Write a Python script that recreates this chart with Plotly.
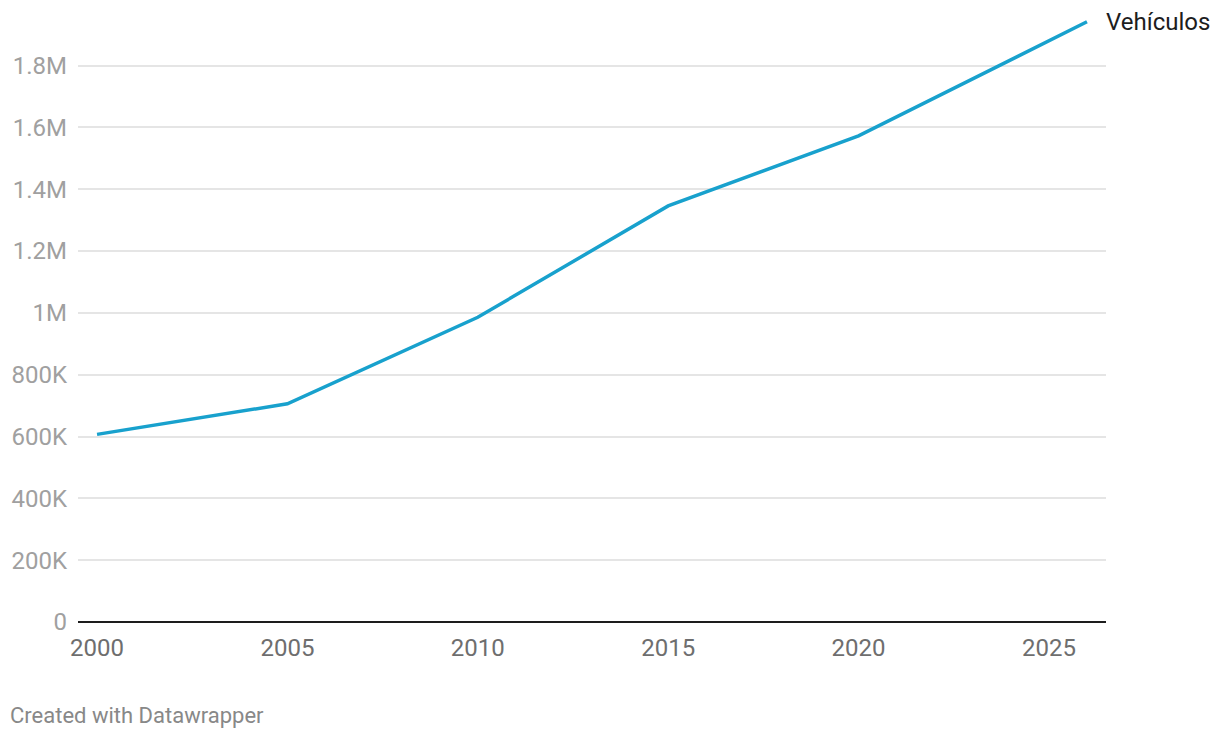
import plotly.graph_objects as go

years = [2000, 2005, 2010, 2015, 2020, 2026]
vehiculos = [607000, 706000, 986000, 1346000, 1573000, 1942000]
series_name = "Vehículos"

y_tickvals = [0, 200000, 400000, 600000, 800000, 1000000, 1200000, 1400000, 1600000, 1800000]
y_ticktext = ["0", "200K", "400K", "600K", "800K", "1M", "1.2M", "1.4M", "1.6M", "1.8M"]
x_tickvals = [2000, 2005, 2010, 2015, 2020, 2025]
x_ticktext = ["2000", "2005", "2010", "2015", "2020", "2025"]

# page body has an 8px default margin, so offsets compensate for it
W, H = 1220, 738
ML, MR, MT, MB = 70, 122, 2, 124
plot_w = W - ML - MR
plot_h = H - MT - MB

fig = go.Figure()
fig.add_trace(go.Scatter(
    x=years, y=vehiculos, mode="lines", name=series_name,
    line=dict(color="#18a1cd", width=3.5), hoverinfo="x+y",
))
fig.add_annotation(
    x=years[-1], y=vehiculos[-1], xref="x", yref="y",
    text=series_name, showarrow=False, xanchor="left", yanchor="middle",
    xshift=17, font=dict(family="Roboto", size=24, color="#1d1d1d"),
)
fig.add_annotation(
    x=(8 - 78) / plot_w, y=(621.7 - 715) / plot_h, xref="paper", yref="paper",
    xanchor="left", yanchor="middle",
    text="Created with Datawrapper", showarrow=False,
    font=dict(family="Roboto", size=22, color="#888888"),
)

fig.update_layout(
    width=W, height=H,
    margin=dict(l=ML, r=MR, t=MT, b=MB, autoexpand=False),
    plot_bgcolor="white", paper_bgcolor="white",
    showlegend=False,
    font=dict(family="Roboto"),
)
fig.update_xaxes(
    range=[1999.5, 2026.5], tickvals=x_tickvals, ticktext=x_ticktext,
    showgrid=False, zeroline=False, showline=False,
    tickfont=dict(family="Roboto", size=24, color="#6e6e6e"),
    ticks="", ticklabelstandoff=9,
)
fig.update_yaxes(
    range=[0, 1980000], tickvals=y_tickvals, ticktext=y_ticktext,
    showgrid=True, gridcolor="#e5e5e5", gridwidth=1.5,
    zeroline=True, zerolinecolor="#1d1d1d", zerolinewidth=2,
    showline=False, ticks="", ticklabelstandoff=10,
    tickfont=dict(family="Roboto", size=24, color="#a0a0a0"),
)
fig.write_html("out.html")
